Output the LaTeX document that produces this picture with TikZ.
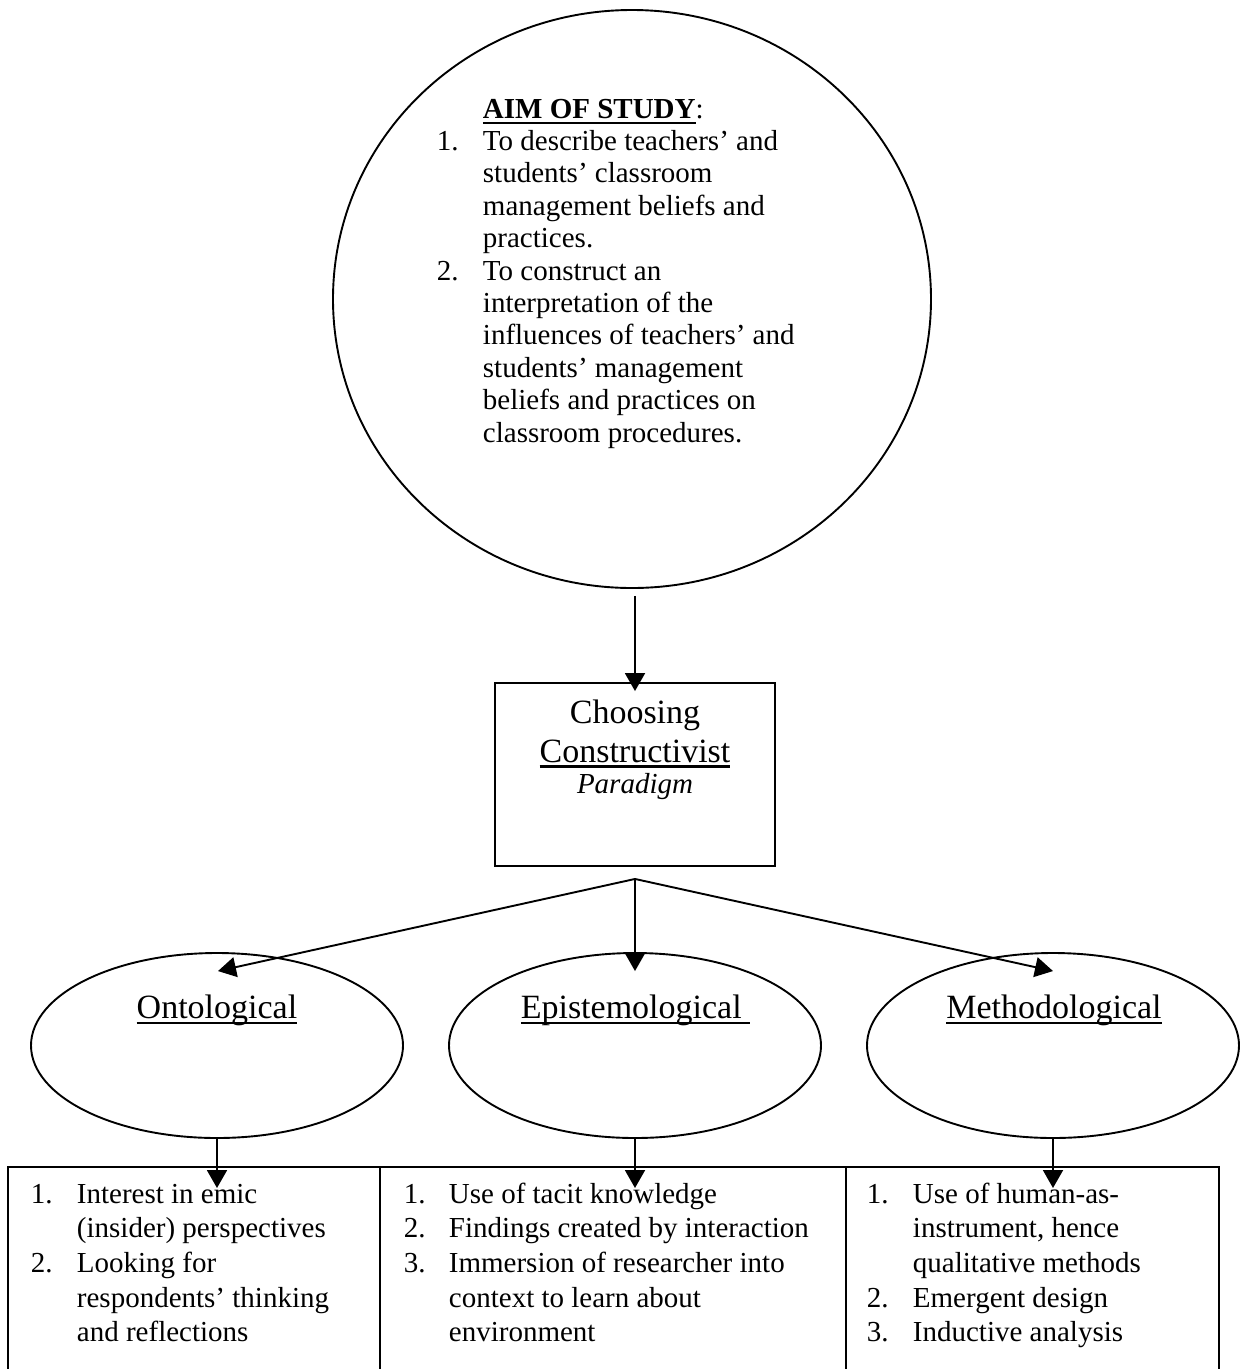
\documentclass[tikz,border=0pt]{standalone}
\usepackage{fontspec}
\setmainfont{Liberation Serif}
\usetikzlibrary{arrows.meta,shapes.geometric,calc}

% underline drawn at a fixed depth below the baseline
\newcommand\undl[2][2.4pt]{\setbox0\hbox{#2}\rlap{\rule[-6pt]{\wd0}{#1}}\box0}

\begin{document}
\begin{tikzpicture}[x=1pt,y=-1pt,
  line width=1.9pt,
  arr/.style={-{Triangle[width=20pt,length=18pt]}},
  oval/.style={draw,ellipse,inner sep=0pt,minimum width=372pt,minimum height=185pt},
  listbox/.style={draw,anchor=north west,inner sep=0pt,minimum height=260pt},
  big/.style={inner sep=0pt,anchor=base,font=\fontsize{34}{39}\selectfont},
  body/.style={inner sep=0pt,anchor=base west,font=\fontsize{29}{34.7}\selectfont},
  ]
\useasboundingbox (0,0) rectangle (1244,1369);
\fill[white] (0,0) rectangle (1244,1369);
\clip (0,0) rectangle (1244,1369);

% aim of the study
\node[draw,ellipse,inner sep=0pt,minimum width=598pt,minimum height=578pt] (aim) at (632,299) {};
\node[body,font=\fontsize{29}{32.4}\selectfont] (aimtxt) at (436,118) {%
  \begin{tabular}[t]{@{}p{46pt}@{}l@{}}
     & \undl{\textbf{AIM OF STUDY}}:\\
  1. & To describe teachers’ and\\
     & students’ classroom\\
     & management beliefs and\\
     & practices.\\
  2. & To construct an\\
     & interpretation of the\\
     & influences of teachers’ and\\
     & students’ management\\
     & beliefs and practices on\\
     & classroom procedures.
  \end{tabular}};

% paradigm box
\node[draw,minimum width=280pt,minimum height=183pt,inner sep=0pt] (para) at (635,774.5) {};
\node[big] (p1) at (635,723) {Choosing};
\node[big] (p2) at (635,762) {\undl[2.8pt]{Constructivist}};
\node[inner sep=0pt,anchor=base,font=\fontsize{29}{34}\selectfont\itshape] (p3) at (635,793) {Paradigm};

\draw[arr] ($(aim.south)+(3,7)$) -- ($(para.north)+(0,9)$);

% the three dimensions
\node[oval] (onto) at (217,1045.5) {};
\node[oval] (epis) at (635,1045.5) {};
\node[oval] (meth) at (1053,1045.5) {};
\node[big] (ontol) at (217,1018) {\undl{Ontological}};
\node[big] (episl) at (635.5,1018) {\undl{Epistemological }};
\node[big] (methl) at (1054,1018) {\undl{Methodological}};

\coordinate (fan) at ($(para.south)+(0,12)$);
\draw[arr] (fan) -- ($(onto.north)+(1,19)$);
\draw[arr] (fan) -- ($(epis.north)+(0,19)$);
\draw[arr] (fan) -- ($(meth.north)+(0,19)$);

% lists of characteristics
\node[listbox,minimum width=372pt] (b1) at (7,1166) {};
\node[listbox,minimum width=466pt] (b2) at (379,1166) {};
\node[listbox,minimum width=373pt] (b3) at (845,1166) {};

\draw[arr] (onto.south) -- ($(onto.south |- b1.north)+(0,22)$);
\draw[arr] (epis.south) -- ($(epis.south |- b2.north)+(0,22)$);
\draw[arr] (meth.south) -- ($(meth.south |- b3.north)+(0,22)$);

\node[body] (t1) at (30,1203) {%
  \begin{tabular}[t]{@{}p{46pt}@{}l@{}}
  1. & Interest in emic\\
     & (insider) perspectives\\
  2. & Looking for\\
     & respondents’ thinking\\
     & and reflections
  \end{tabular}};
\node[body] (t2) at (403,1203) {%
  \begin{tabular}[t]{@{}p{45pt}@{}l@{}}
  1. & Use of tacit knowledge\\
  2. & Findings created by interaction\\
  3. & Immersion of researcher into\\
     & context to learn about\\
     & environment
  \end{tabular}};
\node[body] (t3) at (866,1203) {%
  \begin{tabular}[t]{@{}p{46pt}@{}l@{}}
  1. & Use of human-as-\\
     & instrument, hence\\
     & qualitative methods\\
  2. & Emergent design\\
  3. & Inductive analysis
  \end{tabular}};
\end{tikzpicture}
\end{document}
